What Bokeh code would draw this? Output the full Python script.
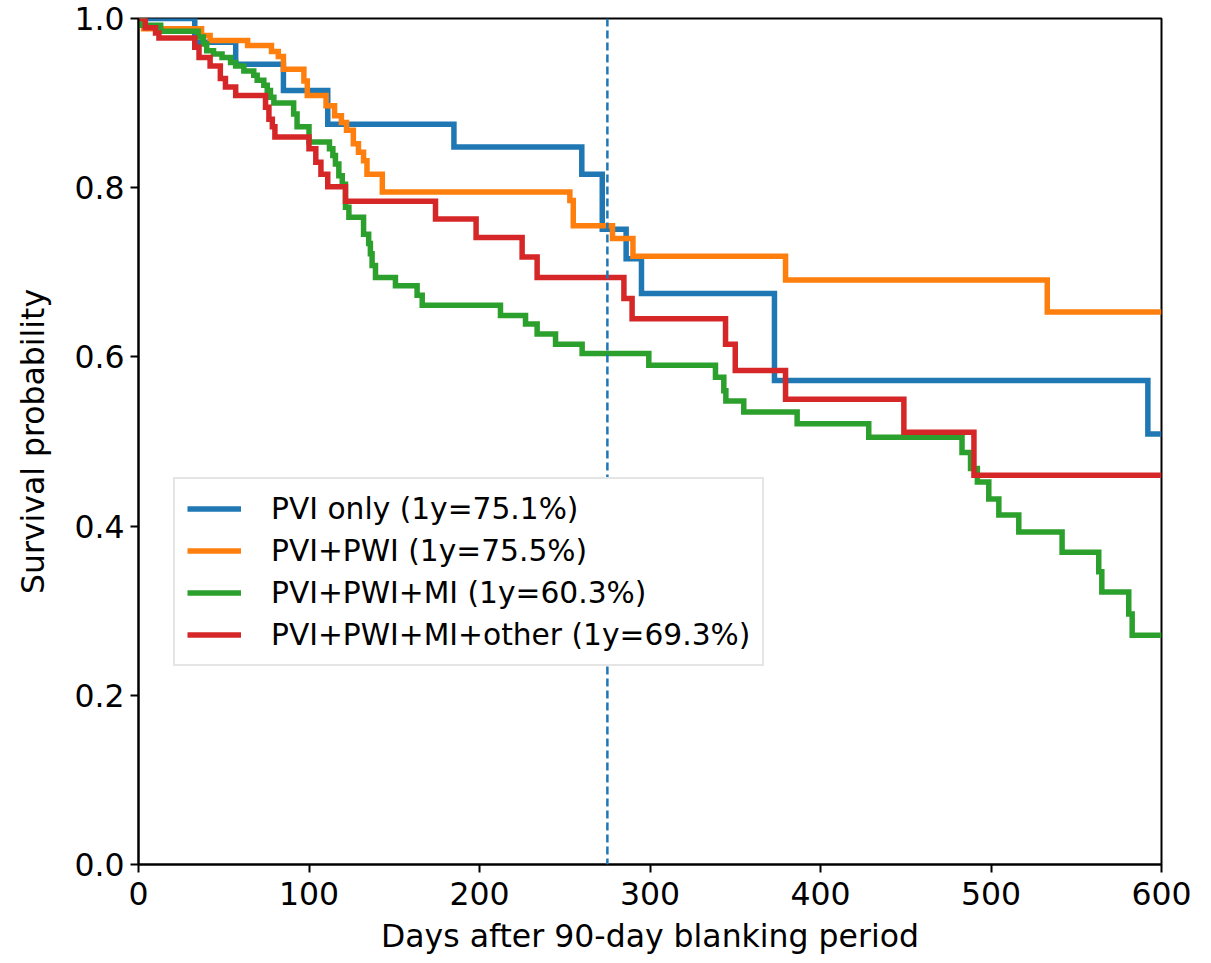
from bokeh.plotting import figure
from bokeh.models import Range1d, FixedTicker, PrintfTickFormatter, Span, Legend, LegendItem
from bokeh.embed import file_html
from bokeh.resources import INLINE

# ---- data ----
pvi_t = [0, 33, 57, 85, 111, 185, 260, 272, 286, 295, 373, 592, 600]
pvi_s = [1.0, 0.972, 0.946, 0.915, 0.875, 0.848, 0.816, 0.751, 0.716, 0.675, 0.572, 0.509, 0.509]

pwi_t = [0, 3, 37, 42, 64, 78, 82, 85, 97, 99, 110, 115, 119, 122, 126, 129, 132, 134, 143,
         253, 255, 278, 290, 379.5, 533, 600]
pwi_s = [1.0, 0.988, 0.980, 0.974, 0.968, 0.961, 0.955, 0.940, 0.926, 0.909, 0.897, 0.885, 0.877,
         0.868, 0.852, 0.842, 0.832, 0.816, 0.795, 0.785, 0.755, 0.740, 0.719, 0.691, 0.653, 0.653]

mi_t = [0, 2, 13, 35, 38, 40, 44, 49, 54, 57, 61.8, 67.6, 69.6, 73.5, 75.5, 77.4, 79.4, 91, 93,
        100, 112, 114, 115.5, 117.5, 119.5, 121.4, 123.4, 132, 135, 136, 137, 139, 150.7, 163.4,
        166.4, 212.3, 227, 233.8, 244.6, 260.2, 299.3, 338.4, 343.3, 344.5, 355, 386.3, 428.3,
        483, 488, 492, 498.7, 504.6, 516.3, 541.7, 563.2, 565, 580.8, 582.8, 600]
mi_s = [1.0, 0.992, 0.985, 0.978, 0.970, 0.962, 0.958, 0.954, 0.948, 0.944, 0.938, 0.933, 0.927,
        0.921, 0.915, 0.907, 0.900, 0.887, 0.872, 0.854, 0.846, 0.838, 0.828, 0.814, 0.804, 0.777,
        0.765, 0.745, 0.734, 0.722, 0.708, 0.694, 0.684, 0.673, 0.661, 0.649, 0.639, 0.627, 0.615,
        0.604, 0.590, 0.576, 0.560, 0.548, 0.535, 0.521, 0.505, 0.487, 0.468, 0.452, 0.432, 0.413,
        0.393, 0.369, 0.346, 0.322, 0.296, 0.271, 0.271]

oth_t = [0, 4, 10, 12, 33, 35.5, 42, 48, 51, 57, 74.5, 76.5, 78.5, 80, 100, 104, 107, 111, 121.4,
         174.2, 198, 225, 233.8, 284.7, 289.5, 344.3, 350, 379.5, 448.9, 490, 600]
oth_s = [1.0, 0.989, 0.983, 0.977, 0.966, 0.954, 0.944, 0.929, 0.919, 0.909, 0.895, 0.881, 0.872,
         0.860, 0.846, 0.830, 0.816, 0.801, 0.784, 0.763, 0.741, 0.718, 0.694, 0.669, 0.645, 0.615,
         0.584, 0.550, 0.511, 0.460, 0.460]

labels = ["PVI only (1y=75.1%)", "PVI+PWI (1y=75.5%)", "PVI+PWI+MI (1y=60.3%)",
          "PVI+PWI+MI+other (1y=69.3%)"]
colors = ["#1f77b4", "#ff7f0e", "#2ca02c", "#d62728"]
x_ticks = [0, 100, 200, 300, 400, 500, 600]
y_ticks = [0.0, 0.2, 0.4, 0.6, 0.8, 1.0]
one_year = 275

FONT = "DejaVu Sans"
FS_AX = "31.5px"
FS_LEG = "29.7px"

p = figure(frame_width=1023, frame_height=846,
           x_range=Range1d(0, 600), y_range=Range1d(0, 1.0),
           output_backend="svg", toolbar_location=None,
           min_border_left=138, min_border_right=40, min_border_top=18, min_border_bottom=20)

p.xgrid.visible = False
p.ygrid.visible = False
p.outline_line_color = "black"
p.outline_line_width = 2
p.background_fill_color = "white"
p.border_fill_color = "white"

series = [(pvi_t, pvi_s), (pwi_t, pwi_s), (mi_t, mi_s), (oth_t, oth_s)]
renderers = []
for (t, s), c in zip(series, colors):
    r = p.step(t, s, mode="after", line_color=c, line_width=5.5, line_join="miter")
    renderers.append(r)

span = Span(location=one_year, dimension="height", line_color="#1f77b4",
            line_dash="8 4", line_width=2.5)
p.add_layout(span)

for ax in (p.xaxis[0], p.yaxis[0]):
    ax.axis_line_color = "black"
    ax.axis_line_width = 2
    ax.major_tick_line_width = 2
    ax.major_tick_line_color = "black"
    ax.major_tick_out = 8
    ax.major_tick_in = 0
    ax.minor_tick_line_color = None
    ax.major_label_text_font = FONT
    ax.major_label_text_font_size = FS_AX
    ax.major_label_text_color = "black"
    ax.axis_label_text_font = FONT
    ax.axis_label_text_font_size = FS_AX
    ax.axis_label_text_font_style = "normal"
    ax.axis_label_text_color = "black"

p.xaxis[0].ticker = FixedTicker(ticks=x_ticks)
p.yaxis[0].ticker = FixedTicker(ticks=y_ticks)
p.yaxis[0].formatter = PrintfTickFormatter(format="%.1f")
p.xaxis[0].axis_label = "Days after 90-day blanking period"
p.yaxis[0].axis_label = "Survival probability"
p.xaxis[0].major_label_standoff = 9
p.yaxis[0].major_label_standoff = 6
p.xaxis[0].axis_label_standoff = 10
p.yaxis[0].axis_label_standoff = 20

legend = Legend(items=[LegendItem(label=l, renderers=[r]) for l, r in zip(labels, renderers)],
                location=(35, 198))
legend.label_text_font = FONT
legend.label_text_font_size = FS_LEG
legend.label_text_color = "black"
legend.glyph_width = 54
legend.glyph_height = 35
legend.label_height = 35
legend.label_standoff = 30
legend.spacing = 7
legend.padding = 12
legend.margin = 0
legend.border_line_color = "#cccccc"
legend.border_line_width = 2
legend.background_fill_color = "white"
legend.background_fill_alpha = 1.0
p.add_layout(legend)

open("out.html", "w").write(file_html(p, INLINE))
